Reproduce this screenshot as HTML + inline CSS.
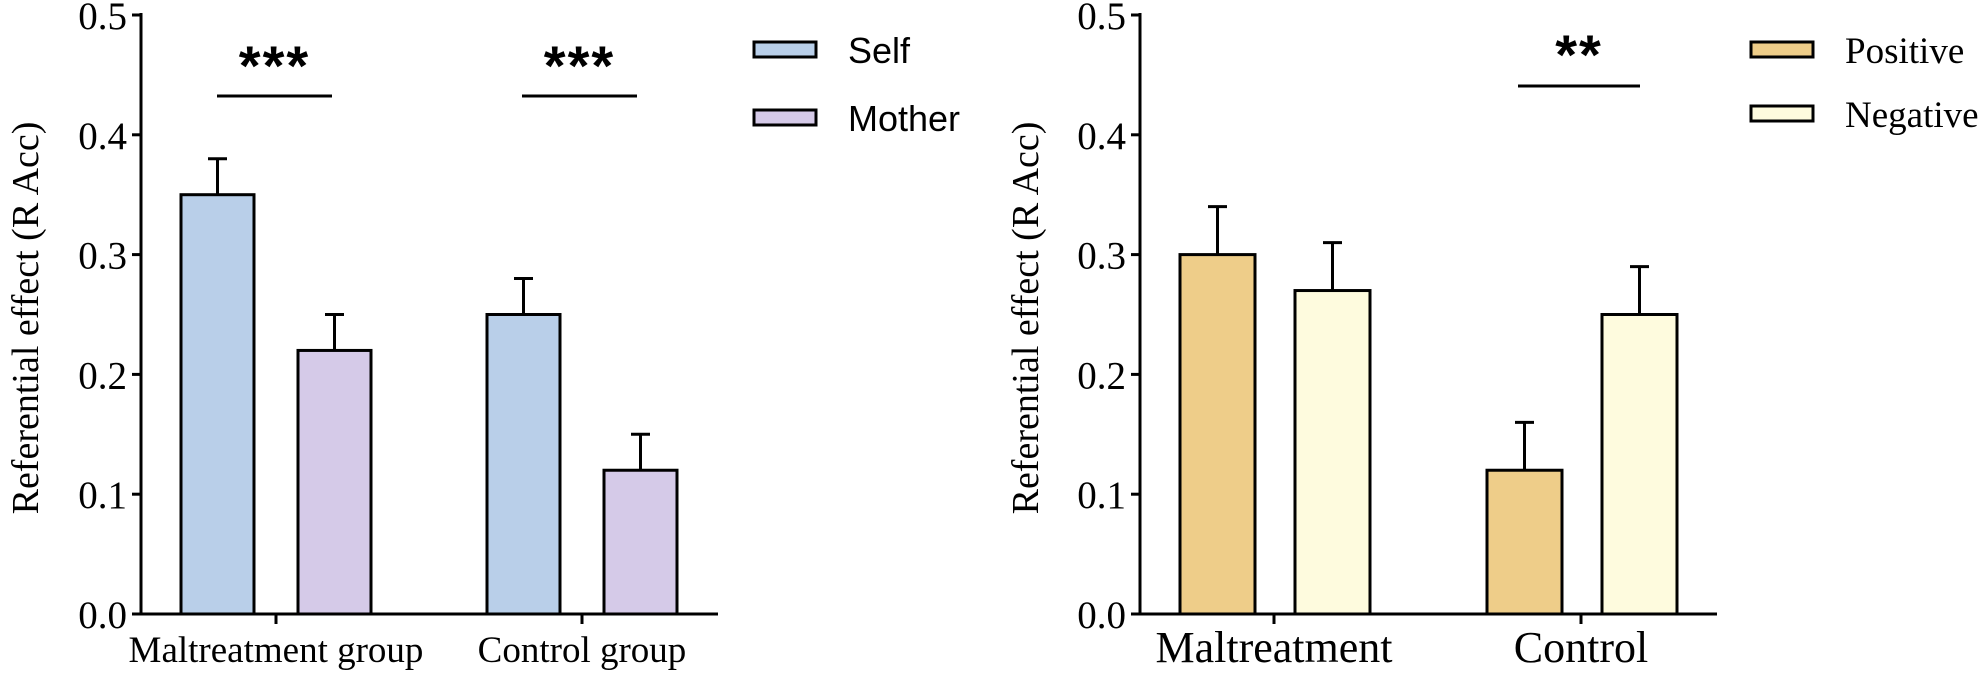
<!DOCTYPE html>
<html><head><meta charset="utf-8"><style>
html,body{margin:0;padding:0;background:#fff;}
svg{display:block;}
</style></head><body>
<svg id="chart" width="1981" height="674" viewBox="0 0 1981 674" xmlns="http://www.w3.org/2000/svg"></svg>
<script>
const leftGroups = ["Maltreatment group", "Control group"];
const selfValues = [0.35, 0.25];
const selfErrors = [0.03, 0.03];
const motherValues = [0.22, 0.12];
const motherErrors = [0.03, 0.03];
const rightGroups = ["Maltreatment", "Control"];
const positiveValues = [0.30, 0.12];
const positiveErrors = [0.04, 0.04];
const negativeValues = [0.27, 0.25];
const negativeErrors = [0.04, 0.04];
const yTicks = [0.0, 0.1, 0.2, 0.3, 0.4, 0.5];
const yTickLabels = ["0.0", "0.1", "0.2", "0.3", "0.4", "0.5"];

const svg = document.getElementById('chart');
const NS = 'http://www.w3.org/2000/svg';
function mk(tag, attrs, text){
  const e = document.createElementNS(NS, tag);
  for (const k in attrs) e.setAttribute(k, attrs[k]);
  if (text !== undefined) e.textContent = text;
  svg.appendChild(e);
  return e;
}
const Y0 = 614, Y1 = 15;
function yScale(v){ return Y0 - (v / 0.5) * (Y0 - Y1); }

function drawPanel(p){
  const serif = '"Liberation Serif", serif';
  let e = mk('line', {x1:p.ax, y1:Y1-2, x2:p.ax, y2:Y0+1.5, stroke:'#000','stroke-width':3});
  
  
  e = mk('line', {x1:p.ax-9, y1:Y0, x2:p.axEnd, y2:Y0, stroke:'#000','stroke-width':3});
  
  
  yTicks.forEach((t,i)=>{
    const y = yScale(t);
    const l = mk('line', {x1:p.ax-9, y1:y, x2:p.ax, y2:y, stroke:'#000','stroke-width':3});
    
    
    const tx = mk('text', {x:p.ax-14, y:y+14, 'text-anchor':'end', 'font-family':serif, 'font-size':39, transform:'', 'textLength':''}, yTickLabels[i]);
    tx.removeAttribute('transform'); tx.removeAttribute('textLength');
    
    
  });
  e = mk('text', {x:0, y:0, transform:'translate('+p.titleX+',318) rotate(-90)', 'text-anchor':'middle', 'font-family':serif, 'font-size':38}, 'Referential effect (R Acc)');
  
  
  p.groups.forEach((g,gi)=>{
    const cx = p.groupX[gi];
    const tk = mk('line', {x1:cx, y1:Y0, x2:cx, y2:Y0+10, stroke:'#000','stroke-width':3});
    
    
    const lb = mk('text', {x:cx, y:662, 'text-anchor':'middle', 'font-family':serif, 'font-size':p.xFont}, g);
    
    
    p.series.forEach((s,si)=>{
      const bx = cx + p.offsets[si];
      const top = yScale(s.values[gi]);
      const etop = yScale(s.values[gi] + s.errors[gi]);
      const bc = bx + p.bw/2;
      const st = mk('line', {x1:bc, y1:etop, x2:bc, y2:top, stroke:'#000','stroke-width':3});
      
      
      const cap = mk('line', {x1:bc-9.5, y1:etop, x2:bc+9.5, y2:etop, stroke:'#000','stroke-width':3});
      
      
      const r = mk('rect', {x:bx, y:top, width:p.bw, height:Y0-top, fill:s.color, stroke:'#000','stroke-width':3});
      
      
    });
  });
  p.sig.forEach(sg=>{
    const l = mk('line', {x1:sg.x1, y1:sg.y, x2:sg.x2, y2:sg.y, stroke:'#000','stroke-width':3});
    
    
    const t = mk('text', {x:(sg.x1+sg.x2)/2, y:sg.ty, 'text-anchor':'middle', 'font-family':'"Liberation Sans", sans-serif', 'font-weight':'bold', 'font-size':56, 'letter-spacing':2}, sg.label);
    
    
  });
  p.series.forEach((s,si)=>{
    const ly = p.legendY[si];
    const r = mk('rect', {x:p.legX, y:ly, width:62, height:15, fill:s.color, stroke:'#000','stroke-width':3});
    
    
    const t = mk('text', {x:p.legX+94, y:ly+21, 'font-family':p.legFont, 'font-size':p.legSize}, s.label);
    
    
  });
}

drawPanel({id:'left', ax:141, axEnd:718, titleX:38, groups:leftGroups, groupX:[276,582], xFont:37,
  offsets:[-95,22], bw:73,
  series:[{name:'self',label:'Self',color:'#b9cfe9',values:selfValues,errors:selfErrors},
          {name:'mother',label:'Mother',color:'#d5cae8',values:motherValues,errors:motherErrors}],
  sig:[{x1:217,x2:332,y:96,ty:85,label:'***'},{x1:522,x2:637,y:96,ty:85,label:'***'}],
  legendY:[42,110], legX:754, legFont:'"Liberation Sans", sans-serif', legSize:36});

drawPanel({id:'right', ax:1140, axEnd:1717, titleX:1038, groups:rightGroups, groupX:[1274,1581], xFont:44,
  offsets:[-94,21], bw:75,
  series:[{name:'positive',label:'Positive',color:'#eecd89',values:positiveValues,errors:positiveErrors},
          {name:'negative',label:'Negative',color:'#fefbde',values:negativeValues,errors:negativeErrors}],
  sig:[{x1:1518,x2:1640,y:86,ty:74,label:'**'}],
  legendY:[42,106], legX:1751, legFont:'"Liberation Serif", serif', legSize:37});
</script>
</body></html>
